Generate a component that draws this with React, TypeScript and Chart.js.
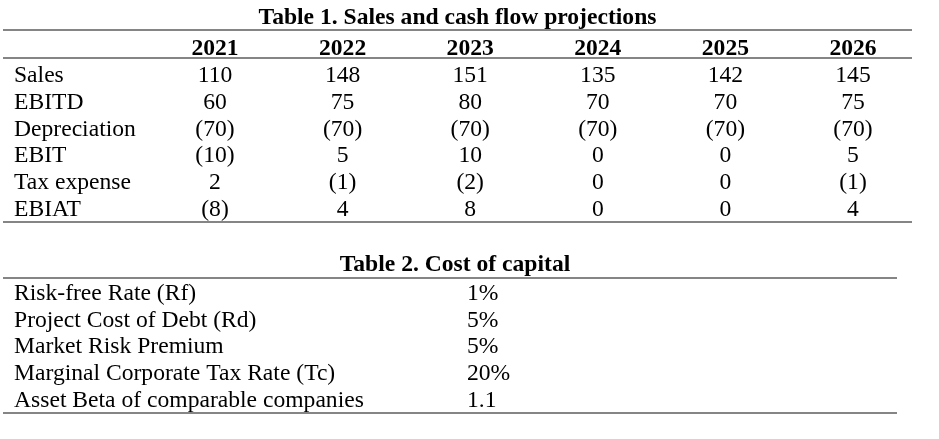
import React, { useEffect, useRef } from 'react';
import { Chart, registerables } from 'chart.js';

Chart.register(...registerables);

// ---------- Table 1 data ----------
const years = ['2021', '2022', '2023', '2024', '2025', '2026'];
const rowLabels = ['Sales', 'EBITD', 'Depreciation', 'EBIT', 'Tax expense', 'EBIAT'];
const sales = [110, 148, 151, 135, 142, 145];
const ebitd = [60, 75, 80, 70, 70, 75];
const depreciation = [-70, -70, -70, -70, -70, -70];
const ebit = [-10, 5, 10, 0, 0, 5];
const taxExpense = [2, -1, -2, 0, 0, -1];
const ebiat = [-8, 4, 8, 0, 0, 4];

// ---------- Table 2 data ----------
const costLabels = [
  'Risk-free Rate (Rf)',
  'Project Cost of Debt (Rd)',
  'Market Risk Premium',
  'Marginal Corporate Tax Rate (Tc)',
  'Asset Beta of comparable companies',
];
const costValues = [1, 5, 5, 20, 1.1];
const costUnits = ['%', '%', '%', '%', ''];

const title1 = 'Table 1. Sales and cash flow projections';
const title2 = 'Table 2. Cost of capital';

const FONT = "'Liberation Serif', 'Times New Roman', Times, serif";
const TEXT_COLOR = '#000000';
const RULE_COLOR = '#858585';
const FONT_SIZE = 23.6;

const fmtAcct = (v: number) => (v < 0 ? `(${-v})` : `${v}`);

const tablePlugin = {
  id: 'tableText',
  afterDatasetsDraw(chart: any, _args: any, opts: any) {
    const { ctx, scales } = chart;
    const xs = scales.x;
    const ys = scales.y;
    ctx.save();

    // horizontal rules
    ctx.strokeStyle = RULE_COLOR;
    ctx.lineWidth = 2;
    const x0 = xs.getPixelForValue(opts.ruleFrom);
    const x1 = xs.getPixelForValue(opts.ruleTo);
    for (const rv of opts.rules as number[]) {
      const y = Math.round(ys.getPixelForValue(rv));
      ctx.beginPath();
      ctx.moveTo(x0, y);
      ctx.lineTo(x1, y);
      ctx.stroke();
    }

    ctx.fillStyle = TEXT_COLOR;
    ctx.textBaseline = 'alphabetic';

    // header row (bold, centered)
    if (opts.header) {
      ctx.font = `bold ${FONT_SIZE}px ${FONT}`;
      ctx.textAlign = 'center';
      (opts.header as string[]).forEach((h, j) => {
        ctx.fillText(h, xs.getPixelForValue(j + 1), ys.getPixelForValue(0));
      });
    }

    // row labels (left aligned)
    ctx.font = `${FONT_SIZE}px ${FONT}`;
    ctx.textAlign = 'left';
    (opts.rowLabels as string[]).forEach((l, i) => {
      ctx.fillText(l, xs.getPixelForValue(opts.labelX), ys.getPixelForValue(i + opts.firstRow));
    });

    // cell values at each point's position
    ctx.textAlign = opts.cellAlign;
    chart.data.datasets.forEach((ds: any, di: number) => {
      const meta = chart.getDatasetMeta(di);
      meta.data.forEach((el: any, j: number) => {
        ctx.fillText(ds.texts[j], el.x, el.y);
      });
    });

    ctx.restore();
  },
};

function useChart(ref: React.RefObject<HTMLCanvasElement>, makeConfig: () => any) {
  useEffect(() => {
    if (!ref.current) return;
    const chart = new Chart(ref.current, makeConfig());
    return () => chart.destroy();
  }, []);
}

const titleOpts = (text: string, top: number, bottom: number) => ({
  display: true,
  text,
  color: TEXT_COLOR,
  align: 'center',
  font: { family: FONT, size: FONT_SIZE, weight: 'bold', lineHeight: 1 },
  padding: { top, bottom },
});

export default function App() {
  const ref1 = useRef<HTMLCanvasElement>(null);
  const ref2 = useRef<HTMLCanvasElement>(null);

  useChart(ref1, () => {
    const rows = [sales, ebitd, depreciation, ebit, taxExpense, ebiat];
    return {
      type: 'scatter',
      data: {
        datasets: rows.map((vals, i) => ({
          label: rowLabels[i],
          data: vals.map((_v, j) => ({ x: j + 1, y: i + 1 })),
          texts: vals.map(fmtAcct),
          pointRadius: 0,
          pointHoverRadius: 0,
        })),
      },
      options: {
        animation: false,
        responsive: false,
        events: [],
        layout: { padding: { left: 3, right: 27, top: 0, bottom: 18 } },
        plugins: {
          legend: { display: false },
          tooltip: { enabled: false },
          title: titleOpts(title1, 6.4, 0),
          tableText: {
            rules: [-0.94, 0.1, 6.22],
            ruleFrom: -0.6615,
            ruleTo: 6.4625,
            header: years,
            rowLabels,
            firstRow: 1,
            labelX: -0.5753,
            cellAlign: 'center',
          },
        },
        scales: {
          x: { type: 'linear', display: false, min: -0.6615, max: 6.4625 },
          y: { type: 'linear', display: false, reverse: true, min: -0.94, max: 6.22 },
        },
      },
      plugins: [tablePlugin],
    };
  });

  useChart(ref2, () => ({
    type: 'scatter',
    data: {
      datasets: [
        {
          label: 'Cost of capital',
          data: costValues.map((_v, i) => ({ x: 1, y: i })),
          texts: costValues.map((v, i) => `${v}${costUnits[i]}`),
          pointRadius: 0,
          pointHoverRadius: 0,
        },
      ],
    },
    options: {
      animation: false,
      responsive: false,
      events: [],
      layout: { padding: { left: 3, right: 32, top: 0, bottom: 26 } },
      plugins: {
        legend: { display: false },
        tooltip: { enabled: false },
        title: titleOpts(title2, 13.4, 1),
        tableText: {
          rules: [-0.822, 4.224],
          ruleFrom: -0.0243,
          ruleTo: 1.9492,
          header: null,
          rowLabels: costLabels,
          firstRow: 0,
          labelX: 0,
          cellAlign: 'left',
        },
      },
      scales: {
        x: { type: 'linear', display: false, min: -0.0243, max: 1.9713 },
        y: { type: 'linear', display: false, reverse: true, min: -0.822, max: 4.224 },
      },
    },
    plugins: [tablePlugin],
  }));

  return (
    <div style={{ position: 'fixed', left: 0, top: 0, width: 939, height: 439, background: '#fff' }}>
      <canvas ref={ref1} width={939} height={240} style={{ display: 'block', width: 939, height: 240 }} />
      <canvas ref={ref2} width={939} height={199} style={{ display: 'block', width: 939, height: 199 }} />
    </div>
  );
}
